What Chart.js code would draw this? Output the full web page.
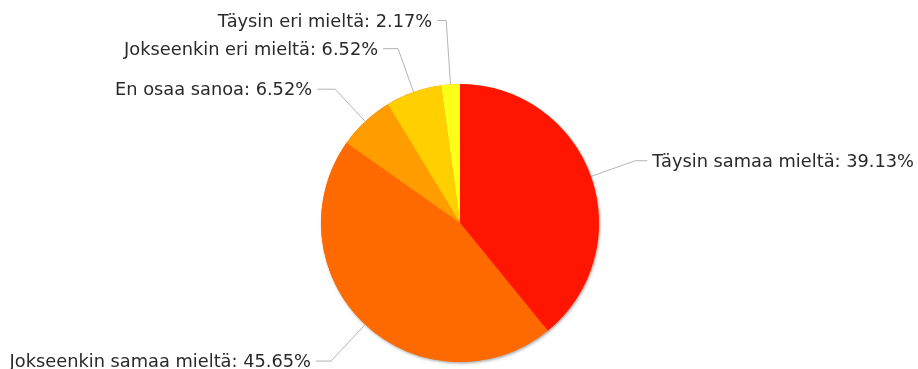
<!DOCTYPE html>
<html>
<head>
<meta charset="utf-8">
<script src="https://cdn.jsdelivr.net/npm/chart.js@4.4.1/dist/chart.umd.min.js"></script>
<style>
  html, body { margin: 0; padding: 0; background: #ffffff; }
  #wrap { width: 918px; height: 369px; }
</style>
</head>
<body>
<div id="wrap"><canvas id="pie" width="918" height="369"></canvas></div>
<script>
// Survey answers (share of respondents, %)
const categories = [
  'Täysin samaa mieltä',
  'Jokseenkin samaa mieltä',
  'En osaa sanoa',
  'Jokseenkin eri mieltä',
  'Täysin eri mieltä'
];
const shares = [39.13, 45.65, 6.52, 6.52, 2.17];
const sliceColors = ['#FF1500', '#FF6A00', '#FF9C00', '#FFCF00', '#FFFF1A'];

// Callout geometry per slice: elbow radius and length of the horizontal tail
const calloutElbow = [186, 189, 183, 185, 203];
const calloutTail = [12, 15, 18, 15, 9];

const FONT = '17.8px "DejaVu Sans", Verdana, sans-serif';

// Soft rim shadow behind the pie
const pieShadow = {
  id: 'pieShadow',
  beforeDatasetsDraw(chart) {
    const arc = chart.getDatasetMeta(0).data[0];
    if (!arc) return;
    const { x, y, outerRadius } = arc.getProps(['x', 'y', 'outerRadius'], true);
    const ctx = chart.ctx;
    ctx.save();
    ctx.shadowColor = 'rgba(0,0,0,0.35)';
    ctx.shadowBlur = 3;
    ctx.shadowOffsetX = 1;
    ctx.shadowOffsetY = 1.5;
    ctx.fillStyle = '#ff6a00';
    ctx.beginPath();
    ctx.arc(x, y, outerRadius, 0, Math.PI * 2);
    ctx.fill();
    ctx.restore();
  }
};

// Outside labels with leader lines
const callouts = {
  id: 'callouts',
  afterDatasetsDraw(chart) {
    const ctx = chart.ctx;
    const meta = chart.getDatasetMeta(0);
    ctx.save();
    ctx.font = FONT;
    ctx.textBaseline = 'middle';
    meta.data.forEach((arc, i) => {
      const p = arc.getProps(['x', 'y', 'startAngle', 'endAngle', 'outerRadius'], true);
      const mid = (p.startAngle + p.endAngle) / 2;
      const cos = Math.cos(mid), sin = Math.sin(mid);
      const sx = p.x + cos * p.outerRadius;
      const sy = p.y + sin * p.outerRadius;
      const ex = p.x + cos * calloutElbow[i];
      const ey = p.y + sin * calloutElbow[i];
      const right = cos >= 0;
      const tx = ex + (right ? calloutTail[i] : -calloutTail[i]);
      ctx.strokeStyle = '#b4b4b4';
      ctx.lineWidth = 1;
      ctx.beginPath();
      ctx.moveTo(sx, sy);
      ctx.lineTo(ex, ey);
      ctx.lineTo(tx, ey);
      ctx.stroke();
      const text = categories[i] + ': ' + shares[i].toFixed(2) + '%';
      ctx.fillStyle = '#2a2a2a';
      ctx.textAlign = right ? 'left' : 'right';
      ctx.fillText(text, tx + (right ? 5 : -5), ey + 1.5);
    });
    ctx.restore();
  }
};

new Chart(document.getElementById('pie'), {
  type: 'pie',
  data: {
    labels: categories,
    datasets: [{
      data: shares,
      backgroundColor: sliceColors,
      borderWidth: 0,
      hoverOffset: 0,
      radius: 139
    }]
  },
  options: {
    responsive: false,
    animation: false,
    layout: { padding: { left: 321, right: 319, top: 84, bottom: 7 } },
    plugins: {
      legend: { display: false },
      tooltip: { enabled: false }
    },
    events: []
  },
  plugins: [pieShadow, callouts]
});
</script>
</body>
</html>
